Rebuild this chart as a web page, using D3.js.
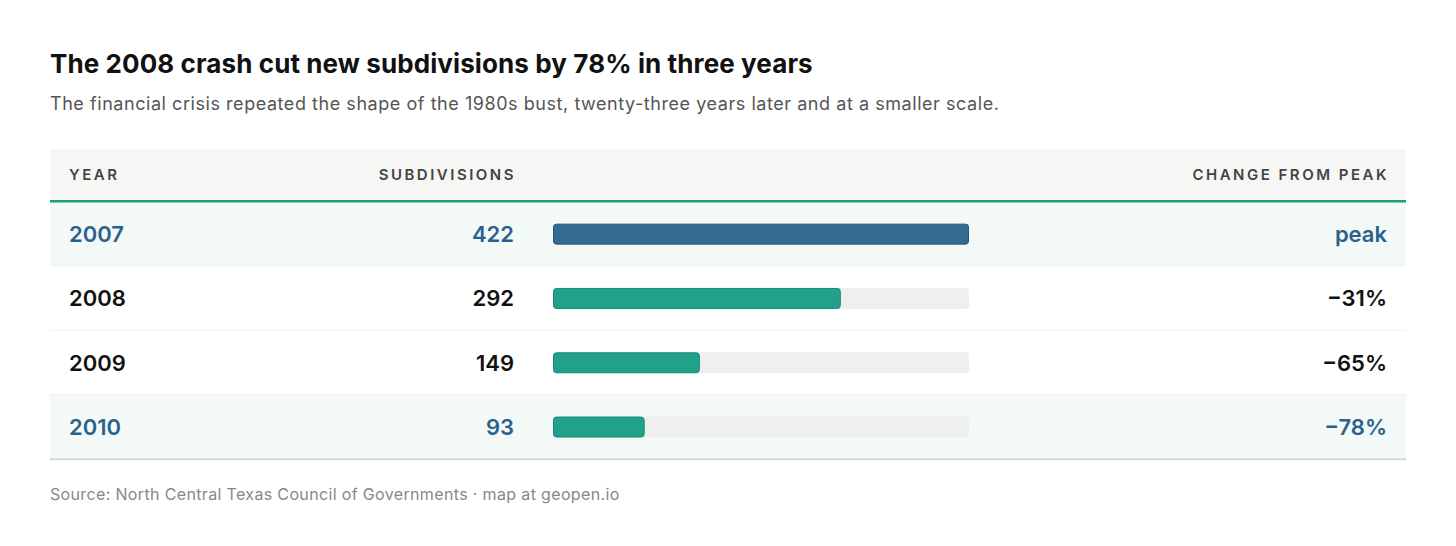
<!DOCTYPE html>
<html>
<head>
<meta charset="utf-8">
<script src="https://cdn.jsdelivr.net/npm/d3@7"></script>
<style>
  html, body { margin: 0; padding: 0; background: #fff; }
  svg { display: block; font-family: Inter, "Noto Sans", sans-serif; }
</style>
</head>
<body>
<div id="chart"></div>
<script>
  // Data
  var years = ['2007', '2008', '2009', '2010'];
  var subdivisions = [422, 292, 149, 93];
  var changeLabels = ['peak', '\u221231%', '\u221265%', '\u221278%'];
  var highlighted = [true, false, false, true];

  var width = 1456, height = 546;
  var left = 50, right = 1406;
  var headerTop = 149, headerBottom = 200, rowH = 64.3;

  var svg = d3.select('#chart').append('svg')
    .attr('width', width)
    .attr('height', height);

  svg.append('text')
    .attr('x', left).attr('y', 73)
    .attr('font-size', 26).attr('font-weight', 700)
    .attr('fill', '#111')
    .attr('letter-spacing', 0.1)
    .text('The 2008 crash cut new subdivisions by 78% in three years');

  svg.append('text')
    .attr('x', left).attr('y', 110)
    .attr('font-size', 18).attr('fill', '#555')
    .attr('letter-spacing', 0.55)
    .text('The financial crisis repeated the shape of the 1980s bust, twenty-three years later and at a smaller scale.');

  // Header band
  svg.append('rect')
    .attr('x', left).attr('y', headerTop)
    .attr('width', right - left).attr('height', headerBottom - headerTop)
    .attr('fill', '#f6f6f4');

  var header = svg.append('g')
    .attr('font-size', 15).attr('font-weight', 600)
    .attr('letter-spacing', 2.5).attr('fill', '#444');
  header.append('text').attr('x', 69).attr('y', 180).text('YEAR');
  header.append('text').attr('x', 516).attr('y', 180).attr('text-anchor', 'end').text('SUBDIVISIONS');
  header.append('text').attr('x', 1389).attr('y', 180).attr('text-anchor', 'end').text('CHANGE FROM PEAK');

  var y = d3.scaleBand()
    .domain(years)
    .range([headerBottom + 2, headerBottom + 2 + rowH * years.length]);

  var x = d3.scaleLinear()
    .domain([0, d3.max(subdivisions)])
    .range([553, 969]);

  var rows = svg.selectAll('.row')
    .data(years)
    .enter().append('g')
    .attr('class', 'row')
    .attr('transform', function (d) { return 'translate(0,' + y(d) + ')'; });

  rows.append('rect')
    .attr('x', left).attr('width', right - left)
    .attr('height', y.bandwidth())
    .attr('fill', function (d, i) { return highlighted[i] ? '#f3f9f7' : '#fff'; });

  rows.append('line')
    .attr('x1', left).attr('x2', right)
    .attr('y1', y.bandwidth()).attr('y2', y.bandwidth())
    .attr('stroke', function (d, i) { return i === years.length - 1 ? '#cfd2d2' : '#e6e8e8'; })
    .attr('stroke-width', function (d, i) { return i === years.length - 1 ? 1.5 : 1; });

  var textColor = function (d, i) { return highlighted[i] ? '#2a628c' : '#111'; };

  var cell = function (xPos, anchor, fn) {
    rows.append('text')
      .attr('x', xPos).attr('y', y.bandwidth() / 2 + 8)
      .attr('text-anchor', anchor)
      .attr('font-size', 22).attr('font-weight', 600)
      .attr('fill', textColor)
      .text(fn);
  };
  cell(69, 'start', function (d) { return d; });
  cell(514, 'end', function (d, i) { return subdivisions[i]; });
  cell(1387, 'end', function (d, i) { return changeLabels[i]; });

  // Track and bar
  var barH = 21;
  rows.append('rect')
    .attr('x', x(0)).attr('y', (y.bandwidth() - barH) / 2)
    .attr('width', x.range()[1] - x(0)).attr('height', barH)
    .attr('rx', 3)
    .attr('fill', '#efefee');

  rows.append('rect')
    .attr('x', x(0) + 0.5).attr('y', (y.bandwidth() - barH) / 2 + 0.5)
    .attr('width', function (d, i) { return x(subdivisions[i]) - x(0) - 1; })
    .attr('height', barH - 1)
    .attr('rx', 3)
    .attr('fill', function (d, i) { return i === 0 ? '#336a8f' : '#21a08a'; })
    .attr('stroke', function (d, i) { return i === 0 ? '#24557a' : '#178c76'; })
    .attr('stroke-width', 1);

  // Teal rule under header
  svg.append('rect')
    .attr('x', left).attr('y', headerBottom)
    .attr('width', right - left).attr('height', 2.5)
    .attr('fill', '#1d9a84');

  svg.append('text')
    .attr('x', left).attr('y', 500)
    .attr('font-size', 16).attr('fill', '#888')
    .attr('letter-spacing', 0.35)
    .text('Source: North Central Texas Council of Governments \u00b7 map at geopen.io');
</script>
</body>
</html>
